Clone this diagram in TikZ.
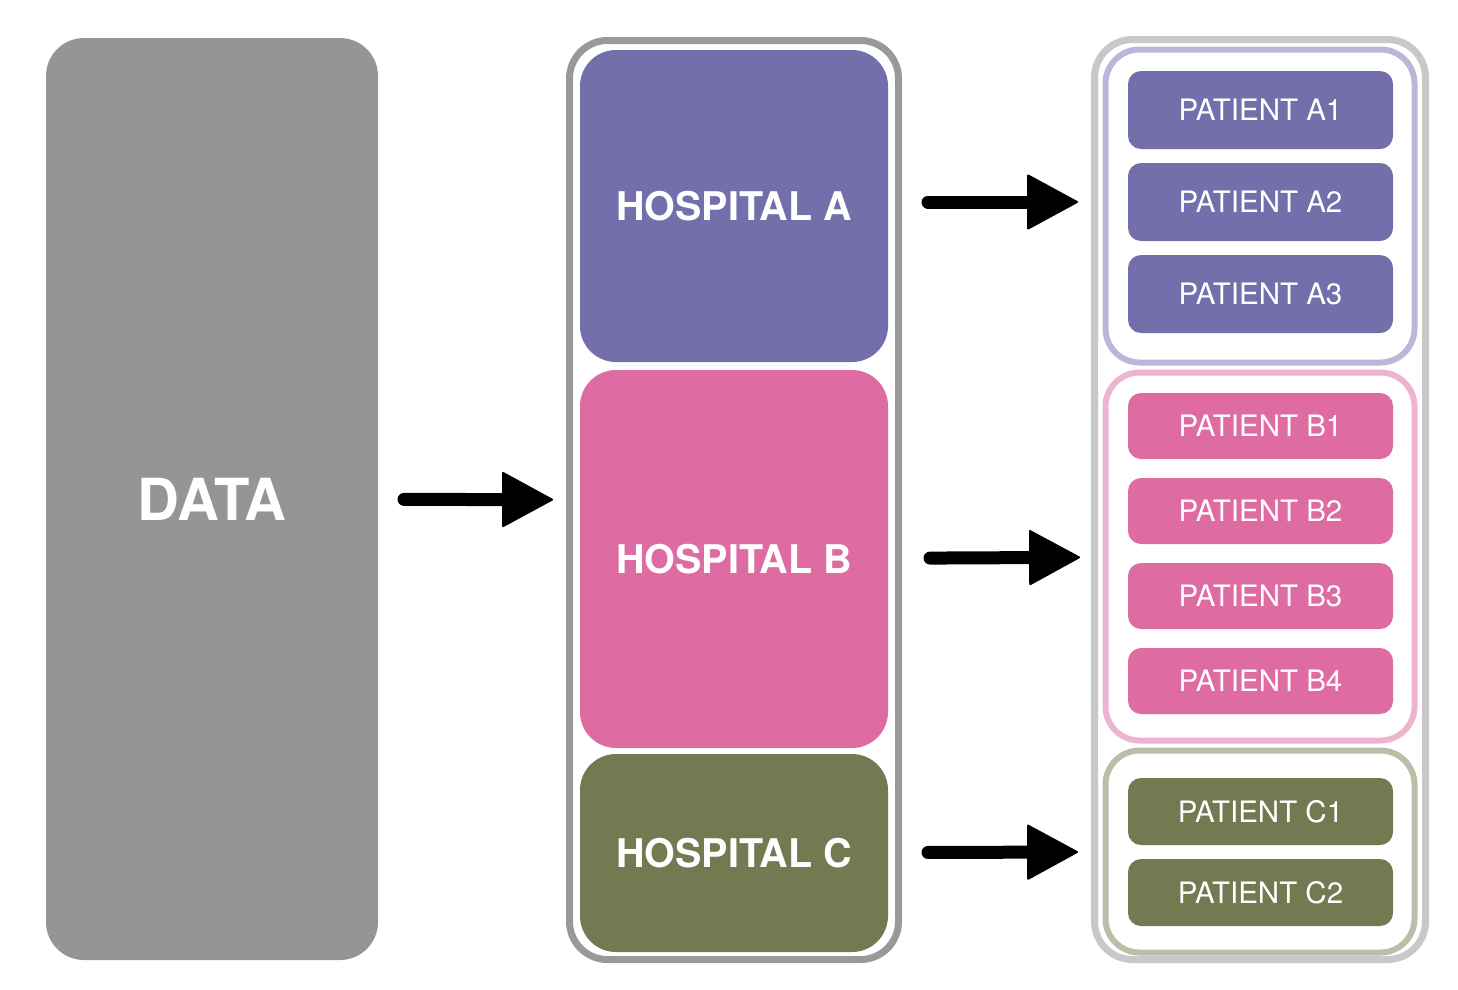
\documentclass[tikz,border=0pt]{standalone}
\usepackage{fontspec}
\setmainfont{TeX Gyre Heros}
\usetikzlibrary{positioning,arrows.meta}
\definecolor{datagray}{HTML}{959595}
\definecolor{hospgray}{HTML}{999999}
\definecolor{patgray}{HTML}{C8C8C8}
\definecolor{hospA}{HTML}{736FAB}
\definecolor{hospB}{HTML}{DE6CA2}
\definecolor{hospC}{HTML}{717A50}
\definecolor{grpA}{HTML}{B9B8D8}
\definecolor{grpB}{HTML}{EDB4D0}
\definecolor{grpC}{HTML}{B9BFA9}

\begin{document}
\begin{tikzpicture}[
    x=1pt,y=-1pt,
    box/.style={rectangle,outer sep=0pt,inner sep=0pt,text=white},
    data/.style={box,fill=datagray,rounded corners=38pt,font=\fontsize{58}{64}\selectfont\bfseries},
    hosp/.style={box,minimum width=308pt,rounded corners=36pt,font=\fontsize{39.5}{46}\selectfont\bfseries},
    frame/.style={box,draw,line width=7pt,rounded corners=38pt},
    group/.style={box,draw,line width=6pt,minimum width=309pt,rounded corners=34pt},
    patient/.style={box,minimum width=265pt,rounded corners=13pt,font=\fontsize{29.5}{34}\selectfont},
    flow/.style={line width=13pt,line cap=round,-{Triangle[round,line width=2pt,length=52pt,width=56pt]}}]
    \useasboundingbox (0,0) rectangle (1458,989);

    \node[data,minimum width=332pt,minimum height=922pt] (D) at (212,499) {DATA};

    \node[frame,draw=hospgray,minimum width=329pt,minimum height=919pt] (H) at (734,500) {};
    \node[hosp,fill=hospA,minimum height=312pt] (HA) at (734,206) {HOSPITAL A};
    \node[hosp,fill=hospB,minimum height=378pt] (HB) [below=8pt of HA] {HOSPITAL B};
    \node[hosp,fill=hospC,minimum height=198pt] (HC) [below=6pt of HB] {HOSPITAL C};

    \node[frame,draw=patgray,minimum width=331pt,minimum height=920pt] (P) at (1260,499.5) {};
    \node[group,draw=grpA,minimum height=313pt] (GA) at (1260,206) {};
    \node[group,draw=grpB,minimum height=368pt] (GB) [below=10pt of GA] {};
    \node[group,draw=grpC,minimum height=202pt] (GC) [below=10pt of GB] {};

    \node[patient,fill=hospA,minimum height=78pt] (PA1) at (1260.5,110) {PATIENT A1};
    \node[patient,fill=hospA,minimum height=78pt] (PA2) [below=14pt of PA1] {PATIENT A2};
    \node[patient,fill=hospA,minimum height=78pt] (PA3) [below=14pt of PA2] {PATIENT A3};

    \node[patient,fill=hospB,minimum height=66pt] (PB1) at (1260.5,426) {PATIENT B1};
    \node[patient,fill=hospB,minimum height=66pt] (PB2) [below=19pt of PB1] {PATIENT B2};
    \node[patient,fill=hospB,minimum height=66pt] (PB3) [below=19pt of PB2] {PATIENT B3};
    \node[patient,fill=hospB,minimum height=66pt] (PB4) [below=19pt of PB3] {PATIENT B4};

    \node[patient,fill=hospC,minimum height=67pt] (PC1) at (1260.5,811.5) {PATIENT C1};
    \node[patient,fill=hospC,minimum height=67pt] (PC2) [below=14pt of PC1] {PATIENT C2};

    \draw[flow,shorten <=26pt,shorten >=16.5pt] (D) -- (H);
    \draw[flow,shorten <=40pt,shorten >=27.5pt] ([yshift=4pt]HA.east) -- ([yshift=4pt]GA.west);
    \draw[flow,shorten <=42pt,shorten >=25.5pt] (HB) -- (GB);
    \draw[flow,shorten <=40pt,shorten >=27.5pt] (HC) -- (GC);
\end{tikzpicture}
\end{document}
